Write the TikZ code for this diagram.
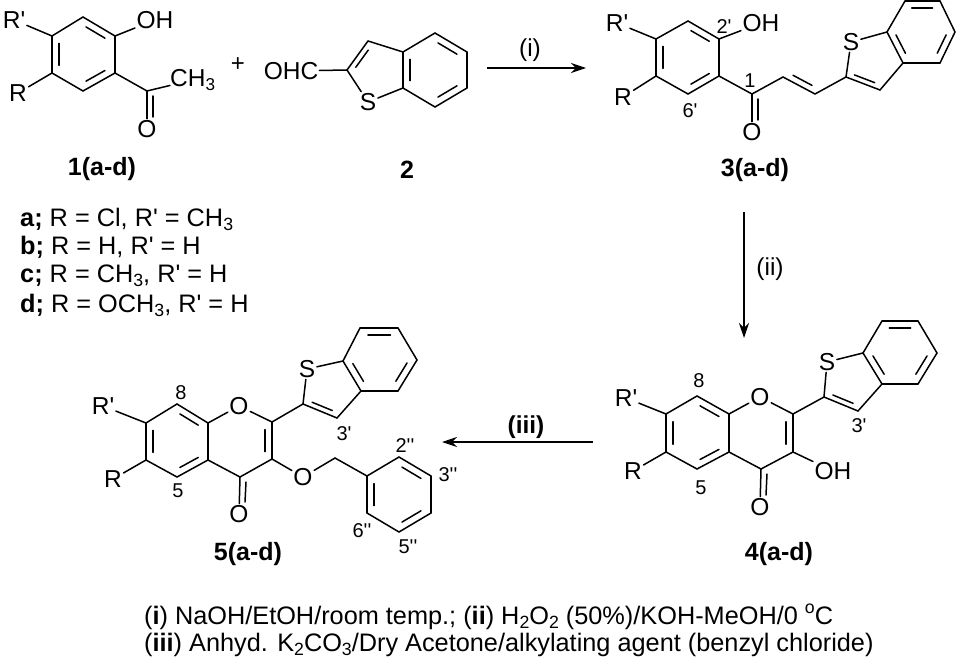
\documentclass[tikz,border=0pt]{standalone}
\usepackage{graphicx}
\usepackage{fontspec}
\setmainfont{Liberation Sans}[Ligatures=TeXOff]
\usetikzlibrary{arrows.meta,calc}
\tikzset{
  bond/.style={line width=1.5pt,line cap=round},
  atom/.style={inner sep=1.5pt,font=\fontsize{24.5}{26}\selectfont},
  numlab/.style={inner sep=0pt,font=\fontsize{20}{22}\selectfont},
  cmpd/.style={inner sep=0pt,font=\fontsize{25}{27}\selectfont\bfseries},
  reagent/.style={inner sep=0pt,anchor=base west,font=\fontsize{25.3}{27}\selectfont},
  rxn/.style={line width=1.3pt,-{Stealth[length=15pt,width=10pt]}},
}
% second line of a double bond, pulled towards the third point
\newcommand{\inbond}[3]{\draw[bond] ($(#1)!.12!(#2)!.22!(#3)$) -- ($(#2)!.12!(#1)!.22!(#3)$);}
\newcommand{\lowtxt}[1]{\raisebox{-.17em}{\scalebox{.7}{#1}}}
\newcommand{\hightxt}[1]{\raisebox{.42em}{\scalebox{.7}{#1}}}
\begin{document}
\begin{tikzpicture}[x=1pt,y=-1pt]
\useasboundingbox (0,0) rectangle (961,658);
% 1(a-d)
\coordinate (a1) at (83,17);
\coordinate (a2) at (115,36);
\coordinate (a3) at (115,73);
\coordinate (a4) at (83,91);
\coordinate (a5) at (52,73);
\coordinate (a6) at (52,36);
\coordinate (ac) at (83,54);
\coordinate (ak) at (147,91);
\node [atom] (arp) at (14,20) {R'};
\node [atom] (ar) at (18,93) {R};
\node [atom] (aoh) at (155,20) {OH};
\node [atom] (ao) at (147,129) {O};
\node [atom,anchor=west,inner sep=0pt] (ach) at (170,80) {CH\lowtxt{3}};
\foreach \u/\v in {a1/a2,a2/a3,a3/a4,a4/a5,a5/a6,a6/a1,a6/arp,a5/ar,a2/aoh,a3/ak,ak/ach,ak/ao}
  \draw [bond] (\u) -- (\v);
\inbond{a1}{a2}{ac}
\inbond{a3}{a4}{ac}
\inbond{a5}{a6}{ac}
\draw [bond] ($(ak)+(6,5)$) -- ($(ao)+(6,-12)$);
\node [inner sep=0pt,font=\fontsize{24}{26}\selectfont] (plus) at (238,65) {+};
% 2
\node [atom,inner sep=1pt] (bcho) at (291,71) {OHC};
\node [atom] (bs) at (368,102) {S};
\coordinate (b2) at (347,70);
\coordinate (b3) at (368,41);
\coordinate (b4) at (403,52);
\coordinate (b5) at (403,88);
\coordinate (b6) at (435,33);
\coordinate (b7) at (467,52);
\coordinate (b8) at (467,88);
\coordinate (b9) at (435,107);
\coordinate (bc) at (435,70);
\coordinate (bt) at (378,70);
\foreach \u/\v in {bcho/b2,b2/b3,b3/b4,b4/b5,b5/bs,bs/b2,b4/b6,b6/b7,b7/b8,b8/b9,b9/b5}
  \draw [bond] (\u) -- (\v);
\inbond{b2}{b3}{bt}
\inbond{b4}{b5}{bc}
\inbond{b6}{b7}{bc}
\inbond{b8}{b9}{bc}
% (i)
\coordinate (ia) at (487,68);
\coordinate (ib) at (586,68);
\draw [rxn] (ia) -- (ib);
\node [atom] (il) at (530,50) {(i)};
% 3(a-d)
\coordinate (c1) at (688,21);
\coordinate (c2) at (719,39);
\coordinate (c3) at (719,76);
\coordinate (c4) at (688,94);
\coordinate (c5) at (656,76);
\coordinate (c6) at (656,39);
\coordinate (cc) at (688,57);
\coordinate (ck) at (752,94);
\coordinate (cx) at (783,77);
\coordinate (cy) at (815,94);
\coordinate (cv) at (815,62);
\coordinate (d2) at (846,77);
\coordinate (d3) at (880,90);
\coordinate (d4) at (903,63);
\coordinate (d5) at (887,32);
\coordinate (d6) at (905,1);
\coordinate (d7) at (940,1);
\coordinate (d8) at (955,32);
\coordinate (d9) at (940,63);
\coordinate (dc) at (921,32);
\coordinate (dt) at (870,62);
\node [atom] (crp) at (617,23) {R'};
\node [atom] (cr) at (623,97) {R};
\node [atom] (coh) at (761,23) {OH};
\node [atom] (co) at (752,132) {O};
\node [atom] (ds) at (851,42) {S};
\foreach \u/\v in {c1/c2,c2/c3,c3/c4,c4/c5,c5/c6,c6/c1,c6/crp,c5/cr,c2/coh,c3/ck,ck/co,ck/cx,cx/cy,cy/d2,d2/d3,d3/d4,d4/d5,d5/ds,ds/d2,d5/d6,d6/d7,d7/d8,d8/d9,d9/d4}
  \draw [bond] (\u) -- (\v);
\inbond{c1}{c2}{cc}
\inbond{c3}{c4}{cc}
\inbond{c5}{c6}{cc}
\inbond{cx}{cy}{cv}
\inbond{d2}{d3}{dt}
\inbond{d4}{d5}{dc}
\inbond{d6}{d7}{dc}
\inbond{d8}{d9}{dc}
\draw [bond] ($(ck)+(6,5)$) -- ($(co)+(6,-12)$);
\node [numlab] (c2l) at (724,27) {2'};
\node [numlab] (c6l) at (690,111) {6'};
\node [numlab] (c1l) at (750,81) {1};
% (ii)
\coordinate (iia) at (744,212);
\coordinate (iib) at (744,338);
\draw [rxn] (iia) -- (iib);
\node [atom] (iil) at (770,269) {(ii)};
% 4(a-d)
\coordinate (e1) at (697,396);
\coordinate (e2) at (729,414);
\coordinate (e3) at (729,452);
\coordinate (e4) at (697,469);
\coordinate (e5) at (666,452);
\coordinate (e6) at (666,414);
\coordinate (ec) at (697,433);
\coordinate (f2) at (793,414);
\coordinate (f3) at (793,452);
\coordinate (f4) at (761,469);
\coordinate (fc) at (761,433);
\coordinate (g2) at (824,397);
\coordinate (g3) at (858,411);
\coordinate (g4) at (882,384);
\coordinate (g5) at (863,353);
\coordinate (g6) at (882,321);
\coordinate (g7) at (918,321);
\coordinate (g8) at (937,353);
\coordinate (g9) at (918,384);
\coordinate (gc) at (900,353);
\coordinate (gt) at (850,382);
\node [atom] (erp) at (626,398) {R'};
\node [atom] (er) at (633,471) {R};
\node [atom] (fo) at (760,397) {O};
\node [atom] (foo) at (760,507) {O};
\node [atom] (foh) at (833,471) {OH};
\node [atom] (gs) at (827,362) {S};
\foreach \u/\v in {e1/e2,e2/e3,e3/e4,e4/e5,e5/e6,e6/e1,e6/erp,e5/er,e2/fo,fo/f2,f2/f3,f3/f4,f4/e3,f4/foo,f3/foh,f2/g2,g2/g3,g3/g4,g4/g5,g5/gs,gs/g2,g5/g6,g6/g7,g7/g8,g8/g9,g9/g4}
  \draw [bond] (\u) -- (\v);
\inbond{e1}{e2}{ec}
\inbond{e3}{e4}{ec}
\inbond{e5}{e6}{ec}
\inbond{f2}{f3}{fc}
\inbond{g2}{g3}{gt}
\inbond{g4}{g5}{gc}
\inbond{g6}{g7}{gc}
\inbond{g8}{g9}{gc}
\draw [bond] ($(f4)+(6,5)$) -- ($(foo)+(6,-12)$);
\node [numlab] (e8l) at (699,381) {8};
\node [numlab] (e5l) at (701,488) {5};
\node [numlab] (g3l) at (859,426) {3'};
% (iii)
\coordinate (iiia) at (593,442);
\coordinate (iiib) at (442,442);
\draw [rxn] (iiia) -- (iiib);
\node [atom,font=\fontsize{24.5}{26}\selectfont\bfseries] (iiil) at (526,427) {(iii)};
% 5(a-d)
\coordinate (h1) at (177,404);
\coordinate (h2) at (208,423);
\coordinate (h3) at (208,460);
\coordinate (h4) at (177,477);
\coordinate (h5) at (146,460);
\coordinate (h6) at (146,423);
\coordinate (hc) at (177,441);
\coordinate (j2) at (272,422);
\coordinate (j3) at (272,459);
\coordinate (j4) at (240,477);
\coordinate (jc) at (240,441);
\coordinate (k2) at (303,404);
\coordinate (k3) at (337,418);
\coordinate (k4) at (361,391);
\coordinate (k5) at (343,361);
\coordinate (k6) at (360,328);
\coordinate (k7) at (398,328);
\coordinate (k8) at (417,360);
\coordinate (k9) at (398,391);
\coordinate (kc) at (380,360);
\coordinate (kt) at (330,390);
\coordinate (m0) at (335,458);
\coordinate (m1) at (367,476);
\coordinate (m2) at (399,457);
\coordinate (m3) at (431,476);
\coordinate (m4) at (431,513);
\coordinate (m5) at (399,532);
\coordinate (m6) at (367,513);
\coordinate (mc) at (399,495);
\node [atom] (hrp) at (103,406) {R'};
\node [atom] (hr) at (113,479) {R};
\node [atom] (jo) at (239,406) {O};
\node [atom] (joo) at (239,514) {O};
\node [atom] (joe) at (303,477) {O};
\node [atom] (ks) at (307,369) {S};
\foreach \u/\v in {h1/h2,h2/h3,h3/h4,h4/h5,h5/h6,h6/h1,h6/hrp,h5/hr,h2/jo,jo/j2,j2/j3,j3/j4,j4/h3,j4/joo,j3/joe,joe/m0,m0/m1,m1/m2,m2/m3,m3/m4,m4/m5,m5/m6,m6/m1,j2/k2,k2/k3,k3/k4,k4/k5,k5/ks,ks/k2,k5/k6,k6/k7,k7/k8,k8/k9,k9/k4}
  \draw [bond] (\u) -- (\v);
\inbond{h1}{h2}{hc}
\inbond{h3}{h4}{hc}
\inbond{h5}{h6}{hc}
\inbond{j2}{j3}{jc}
\inbond{k2}{k3}{kt}
\inbond{k4}{k5}{kc}
\inbond{k6}{k7}{kc}
\inbond{k8}{k9}{kc}
\inbond{m1}{m6}{mc}
\inbond{m2}{m3}{mc}
\inbond{m4}{m5}{mc}
\draw [bond] ($(j4)+(6,5)$) -- ($(joo)+(6,-12)$);
\node [numlab] (h8l) at (181,393) {8};
\node [numlab] (h5l) at (178,491) {5};
\node [numlab] (k3l) at (344,434) {3'};
\node [numlab] (m2l) at (405,446) {2''};
\node [numlab] (m3l) at (448,475) {3''};
\node [numlab] (m6l) at (362,531) {6''};
\node [numlab] (m5l) at (408,547) {5''};
% compound labels
\node [cmpd] (n1) at (102,169) {1(a-d)};
\node [cmpd] (n2) at (407,170) {2};
\node [cmpd] (n3) at (755,170) {3(a-d)};
\node [cmpd] (n4) at (779,554) {4(a-d)};
\node [cmpd] (n5) at (248,554) {5(a-d)};
% substituents
\node [reagent] (la) at (20,226) {\textbf{a;} R = Cl, R' = CH\lowtxt{3}};
\node [reagent] (lb) at (20,254) {\textbf{b;} R = H, R' = H};
\node [reagent] (lc) at (20,282) {\textbf{c;} R = CH\lowtxt{3}, R' = H};
\node [reagent] (ld) at (20,312) {\textbf{d;} R = OCH\lowtxt{3}, R' = H};
% conditions
\node [reagent] (t1) at (144,624) {(\textbf{i}) NaOH/EtOH/room temp.; (\textbf{ii}) H\lowtxt{2}O\lowtxt{2} (50\%)/KOH-MeOH/0 \hightxt{o}C};
\node [reagent] (t2) at (144,651) {(\textbf{iii}) Anhyd. K\lowtxt{2}CO\lowtxt{3}/Dry Acetone/alkylating agent (benzyl chloride)};
\end{tikzpicture}
\end{document}
